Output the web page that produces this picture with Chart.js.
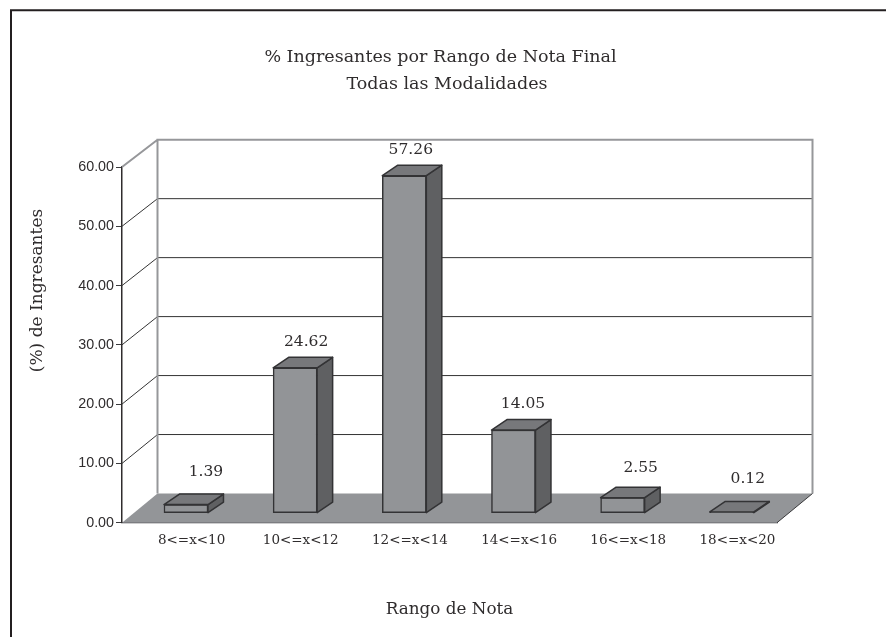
<!DOCTYPE html>
<html><head><meta charset="utf-8">
<script src="https://cdn.jsdelivr.net/npm/chart.js@4"></script>
<style>html,body{margin:0;padding:0;background:#fff;overflow:hidden}canvas{display:block}</style>
</head><body><canvas id="c" width="886" height="637"></canvas>
<script>
const categories = ["8<=x<10","10<=x<12","12<=x<14","14<=x<16","16<=x<18","18<=x<20"];
const percentages = [1.39,24.62,57.26,14.05,2.55,0.12];
const yTicks = [0,10,20,30,40,50,60];
const titleLines = ["% Ingresantes por Rango de Nota Final","Todas las Modalidades"];
const yTitle = "(%) de Ingresantes";
const xTitle = "Rango de Nota";
// label nudges relative to each bar's top centre
const labelDx = [20,11,6.5,9.5,18,16];
const labelDy = [-33,-26,-26,-26,-30,-33];

const SERIF = '"DejaVu Serif"';
const INK = '#2f2c2d';
const WALL_DX = 35.5, WALL_DY0 = 29.2, WALL_DY60 = 27.3;
const BAR_DX = 15.5, BAR_DY = 10.5;

function poly(ctx, pts, fill, stroke, lw){
  ctx.beginPath();
  pts.forEach((p,i)=> i?ctx.lineTo(p[0],p[1]):ctx.moveTo(p[0],p[1]));
  ctx.closePath();
  if(fill){ctx.fillStyle=fill;ctx.fill();}
  if(stroke){ctx.strokeStyle=stroke;ctx.lineWidth=lw;ctx.stroke();}
}
const threeD = {
  id:'threeD',
  beforeDatasetsDraw(chart){
    const {ctx,chartArea:a,scales:{y}} = chart;
    const wallY = v => y.getPixelForValue(v) - (WALL_DY0 + (WALL_DY60-WALL_DY0)*v/60);
    ctx.save();
    ctx.lineJoin='miter';
    // frame
    ctx.strokeStyle='#231f20';ctx.lineWidth=2;
    ctx.beginPath();ctx.moveTo(11,637);ctx.lineTo(11,10.3);ctx.lineTo(886,10.3);ctx.stroke();
    // grid on side and back walls
    yTicks.forEach(v=>{
      if(v===0||v===60) return;
      const py=y.getPixelForValue(v), wy=wallY(v);
      ctx.strokeStyle='#333';ctx.lineWidth=1;
      ctx.beginPath();ctx.moveTo(a.left,py);ctx.lineTo(a.left+WALL_DX,wy);ctx.lineTo(a.right+WALL_DX,wy);ctx.stroke();
    });
    // back wall outline
    ctx.strokeStyle='#96979a';ctx.lineWidth=2;
    ctx.beginPath();
    ctx.moveTo(a.left+WALL_DX,wallY(0));ctx.lineTo(a.left+WALL_DX,wallY(60));
    ctx.lineTo(a.right+WALL_DX,wallY(60));ctx.lineTo(a.right+WALL_DX,wallY(0));
    ctx.moveTo(a.left,y.getPixelForValue(60));ctx.lineTo(a.left+WALL_DX,wallY(60));
    ctx.stroke();
    // floor
    poly(ctx,[[a.left,a.bottom],[a.left+WALL_DX,wallY(0)],[a.right+WALL_DX,wallY(0)],[a.right,a.bottom]],'#939598');
    ctx.strokeStyle='#3a3a3c';ctx.lineWidth=1;
    ctx.beginPath();ctx.moveTo(a.right+WALL_DX,wallY(0));ctx.lineTo(a.right,a.bottom);ctx.stroke();
    ctx.restore();
  },
  afterDatasetsDraw(chart){
    const {ctx} = chart;
    const bars = chart.getDatasetMeta(0).data;
    ctx.save();
    ctx.lineJoin='round';
    bars.forEach((b,i)=>{
      const l=b.x-b.width/2, r=b.x+b.width/2, t=b.y, base=b.base;
      poly(ctx,[[r,t],[r+BAR_DX,t-BAR_DY],[r+BAR_DX,base-BAR_DY],[r,base]],'#5f6062','#333335',1.5);
      poly(ctx,[[l,t],[l+BAR_DX,t-BAR_DY],[r+BAR_DX,t-BAR_DY],[r,t]],'#77787b','#333335',1.5);
    });
    ctx.fillStyle=INK;ctx.textAlign='center';ctx.textBaseline='middle';
    ctx.font='15.5px '+SERIF;
    bars.forEach((b,i)=> ctx.fillText(percentages[i].toFixed(2),b.x+labelDx[i],b.y+labelDy[i]));
    // title lines and rotated y title
    ctx.font='17.5px '+SERIF;
    ctx.fillText(titleLines[0],440.5,57);
    ctx.fillText(titleLines[1],447,84);
    ctx.font='17px '+SERIF;
    ctx.translate(38,290.5);ctx.rotate(-Math.PI/2);
    ctx.fillText(yTitle,0,0);
    ctx.restore();
  }
};
new Chart(document.getElementById('c'),{
  type:'bar',
  data:{labels:categories,datasets:[{
    data:percentages.map((v,i)=>({x:i,y:v})),
    xAxisID:'x2',yAxisID:'y2',
    backgroundColor:'#929497',borderColor:'#333335',borderWidth:1.5,borderSkipped:false,barThickness:44,clip:false
  }]},
  plugins:[threeD],
  options:{
    responsive:false,animation:false,
    layout:{padding:{top:167,right:109,left:0,bottom:0}},
    plugins:{legend:{display:false},tooltip:{enabled:false},title:{display:false}},
    scales:{
      x:{type:'category',labels:categories,position:'bottom',offset:true,
        afterFit:s=>{s.height=114.3;},
        grid:{display:false},
        border:{display:true,color:'#3a3a3c',width:1.3},
        ticks:{color:INK,font:{family:SERIF,size:13.5},labelOffset:15,padding:2,maxRotation:0,autoSkip:false},
        title:{display:true,text:xTitle,color:INK,font:{family:SERIF,size:16.8},padding:{top:0,bottom:17}}},
      y:{type:'linear',min:0,max:60,position:'left',
        afterBuildTicks:s=>{s.ticks=yTicks.map(v=>({value:v}));},
        afterFit:s=>{s.width=122;},
        grid:{drawOnChartArea:false,drawTicks:true,tickLength:6,tickColor:'#3a3a3c',tickWidth:1},
        border:{display:true,color:'#2f2c2d',width:1.5},
        ticks:{color:INK,font:{family:'"Liberation Sans"',size:14.3},padding:2,callback:v=>v.toFixed(2)}},
      x2:{type:'linear',axis:'x',display:false,offset:false,min:-0.586,max:5.414},
      y2:{type:'linear',axis:'y',display:false,min:-1.70,max:58.74}
    }
  }
});
</script></body></html>
